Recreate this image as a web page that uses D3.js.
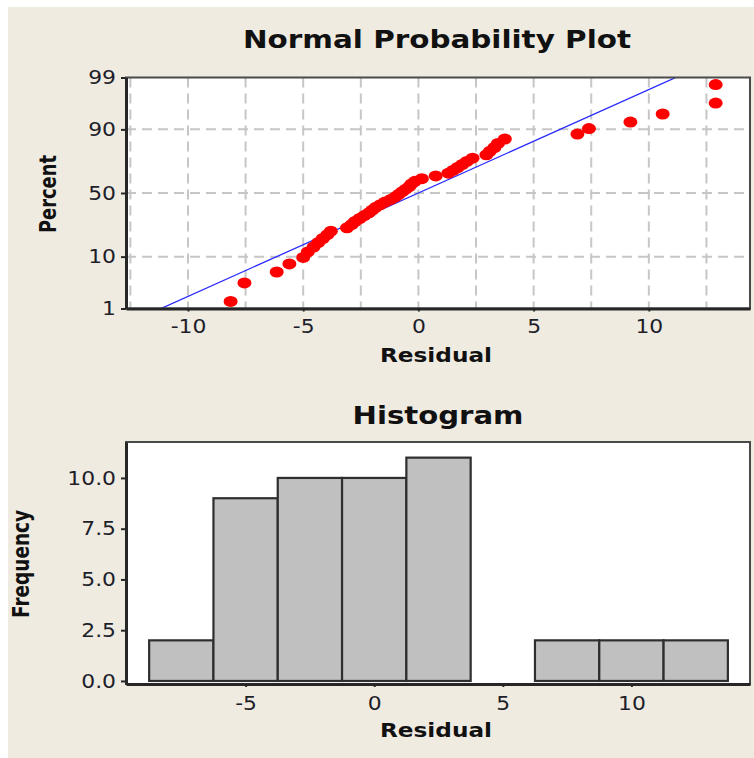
<!DOCTYPE html>
<html><head><meta charset="utf-8">
<script src="https://cdn.jsdelivr.net/npm/d3@7"></script>
<style>
html,body{margin:0;padding:0;background:#fff;}
svg{display:block;}
text{font-family:"DejaVu Sans",Verdana,sans-serif;}
</style></head><body>
<svg id="chart" width="754" height="758"></svg>
<script>
// ---- data ----
const residuals = [-8.15,-7.55,-6.15,-5.6,-5.0,-4.8,-4.55,-4.35,-4.15,-3.95,-3.8,
  -3.1,-2.9,-2.75,-2.55,-2.35,-2.15,-2.0,-1.85,-1.65,-1.45,
  -1.2,-1.0,-0.85,-0.7,-0.55,-0.4,-0.3,-0.15,0.15,0.75,
  1.3,1.5,1.7,1.9,2.1,2.35,2.95,3.1,3.3,3.45,3.75,
  6.9,7.4,9.2,10.6,12.9,12.9];
const percentTicks = [1,10,50,90,99];
const percentGrid = [10,50,90];
const probXTicks = [-10,-5,0,5,10];
const probXGrid = [-12.5,-10,-7.5,-5,-2.5,0,2.5,5,7.5,10,12.5];
const fitMean = 0;
const fitSd = 4.8;
const binCenters = [-7.5,-5,-2.5,0,2.5,5,7.5,10,12.5];
const binCounts = [2,9,10,10,11,0,2,2,2];
const binWidth = 2.5;
const histXTicks = [-5,0,5,10];
const histYTicks = [0,2.5,5,7.5,10];

function qnorm(p){
  const a=[-3.969683028665376e+01,2.209460984245205e+02,-2.759285104469687e+02,1.383577518672690e+02,-3.066479806614716e+01,2.506628277459239e+00];
  const b=[-5.447609879822406e+01,1.615858368580409e+02,-1.556989798598866e+02,6.680131188771972e+01,-1.328068155288572e+01];
  const c=[-7.784894002430293e-03,-3.223964580411365e-01,-2.400758277161838e+00,-2.549732539343734e+00,4.374664141464968e+00,2.938163982698783e+00];
  const d=[7.784695709041462e-03,3.224671290700398e-01,2.445134137142996e+00,3.754408661907416e+00];
  const pl=0.02425, ph=1-pl; let q,r;
  if(p<pl){q=Math.sqrt(-2*Math.log(p));return (((((c[0]*q+c[1])*q+c[2])*q+c[3])*q+c[4])*q+c[5])/((((d[0]*q+d[1])*q+d[2])*q+d[3])*q+1);}
  if(p>ph){q=Math.sqrt(-2*Math.log(1-p));return -(((((c[0]*q+c[1])*q+c[2])*q+c[3])*q+c[4])*q+c[5])/((((d[0]*q+d[1])*q+d[2])*q+d[3])*q+1);}
  q=p-0.5;r=q*q;return (((((a[0]*r+a[1])*r+a[2])*r+a[3])*r+a[4])*r+a[5])*q/(((((b[0]*r+b[1])*r+b[2])*r+b[3])*r+b[4])*r+1);
}

const svg = d3.select("#chart");
const BG = "#efebe1";
svg.append("rect").attr("x",8).attr("y",7).attr("width",746).attr("height",751).attr("fill",BG);

const hyphenFmt = d => String(d);

function stretchTicks(g, k){
  g.selectAll(".tick text").each(function(){
    const L = this.getComputedTextLength();
    d3.select(this).attr("textLength", L*k).attr("lengthAdjust","spacingAndGlyphs");
  });
}
function styleAxis(g){
  g.select(".domain").attr("stroke","#262626").attr("stroke-width",3);
  g.selectAll(".tick line").attr("stroke","#262626").attr("stroke-width",2);
  g.selectAll(".tick text").attr("fill","#1e1e2a").style("font-size","19px").style("font-family","'DejaVu Sans',Verdana,sans-serif");
  stretchTicks(g,1.15);
}
function label(txt, x, y, size, len, rot){
  const t = svg.append("text").attr("text-anchor","middle")
    .attr("transform", `translate(${x},${y})` + (rot ? " rotate(-90)" : ""))
    .attr("font-weight","bold").attr("font-size", size+"px").attr("fill","#111")
    .text(txt);
  if (len) t.attr("textLength", len).attr("lengthAdjust","spacingAndGlyphs");
  return t;
}

// ================= Normal probability plot =================
const P = {l:126, r:750, t:77.5, b:308.5};
const xP = d3.scaleLinear().domain([-12.69, 14.39]).range([P.l, P.r]);
const yP = d3.scaleLinear().domain([qnorm(0.01), qnorm(0.99)]).range([P.b, P.t]);

svg.append("rect").attr("x",P.l).attr("y",P.t).attr("width",P.r-P.l).attr("height",P.b-P.t).attr("fill","#fff");
svg.append("defs").append("clipPath").attr("id","clipP").append("rect")
  .attr("x",P.l).attr("y",P.t).attr("width",P.r-P.l).attr("height",P.b-P.t);

const gridP = svg.append("g").attr("stroke","#c6c6c6").attr("stroke-width",2).attr("stroke-dasharray","10,6");
gridP.selectAll("line.v").data(probXGrid).join("line").attr("class","v")
  .attr("x1",d=>xP(d)).attr("x2",d=>xP(d)).attr("y1",P.t).attr("y2",P.b);
gridP.selectAll("line.h").data(percentGrid).join("line").attr("class","h")
  .attr("x1",P.l).attr("x2",P.r).attr("y1",d=>yP(qnorm(d/100))).attr("y2",d=>yP(qnorm(d/100)));

// fitted line
const zEnds = [qnorm(0.005), qnorm(0.995)];
svg.append("path").attr("clip-path","url(#clipP)")
  .attr("d", d3.line().x(z=>xP(fitMean+fitSd*z)).y(z=>yP(z))(zEnds))
  .attr("stroke","#2a2aff").attr("stroke-width",1.3).attr("fill","none");

// points
const sorted = residuals.slice().sort((a,b)=>a-b);
const n = sorted.length;
svg.append("g").selectAll("ellipse").data(sorted).join("ellipse")
  .attr("cx",d=>xP(d)).attr("cy",(d,i)=>yP(qnorm((i+1-0.3)/(n+0.4))))
  .attr("rx",7).attr("ry",5.5).attr("fill","#ff0000");

// frame
svg.append("rect").attr("x",P.l).attr("y",P.t).attr("width",P.r-P.l).attr("height",P.b-P.t)
  .attr("fill","none").attr("stroke","#4a4a4a").attr("stroke-width",2);

const axLP = svg.append("g").attr("transform",`translate(${P.l},0)`)
  .call(d3.axisLeft(yP).tickValues(percentTicks.map(p=>qnorm(p/100)))
    .tickFormat((d,i)=>percentTicks[i]).tickSize(5).tickSizeOuter(0).tickPadding(5));
styleAxis(axLP);
const axBP = svg.append("g").attr("transform",`translate(0,${P.b})`)
  .call(d3.axisBottom(xP).tickValues(probXTicks).tickFormat(hyphenFmt).tickSize(3).tickSizeOuter(0).tickPadding(8));
styleAxis(axBP);

label("Normal Probability Plot", 437, 48, 24, 388);
label("Residual", 436, 362, 20, 112);
label("Percent", 56, 194, 23, 78, true);

// ================= Histogram =================
const H = {l:126, r:750, t:442, b:684};
const xH = d3.scaleLinear().domain([-9.65, 14.61]).range([H.l, H.r]);
const yH = d3.scaleLinear().domain([-0.15, 11.77]).range([H.b, H.t]);

svg.append("rect").attr("x",H.l).attr("y",H.t).attr("width",H.r-H.l).attr("height",H.b-H.t).attr("fill","#fff");

const bins = binCenters.map((c,i)=>({c, n:binCounts[i]})).filter(d=>d.n>0);
svg.append("g").selectAll("rect").data(bins).join("rect")
  .attr("x",d=>xH(d.c-binWidth/2)).attr("width",d=>xH(d.c+binWidth/2)-xH(d.c-binWidth/2))
  .attr("y",d=>yH(d.n)).attr("height",d=>yH(0)-yH(d.n))
  .attr("fill","#c0c0c0").attr("stroke","#2e2e2e").attr("stroke-width",2.2);

svg.append("rect").attr("x",H.l).attr("y",H.t).attr("width",H.r-H.l).attr("height",H.b-H.t)
  .attr("fill","none").attr("stroke","#4a4a4a").attr("stroke-width",2);

const axLH = svg.append("g").attr("transform",`translate(${H.l},0)`)
  .call(d3.axisLeft(yH).tickValues(histYTicks).tickFormat(d3.format(".1f")).tickSize(5).tickSizeOuter(0).tickPadding(5));
styleAxis(axLH);
const axBH = svg.append("g").attr("transform",`translate(0,${H.b})`)
  .call(d3.axisBottom(xH).tickValues(histXTicks).tickFormat(hyphenFmt).tickSize(3).tickSizeOuter(0).tickPadding(10));
styleAxis(axBH);

label("Histogram", 438, 424, 24, 171);
label("Residual", 436, 737, 20, 112);
label("Frequency", 29, 564, 23, 108, true);
</script>
</body></html>
